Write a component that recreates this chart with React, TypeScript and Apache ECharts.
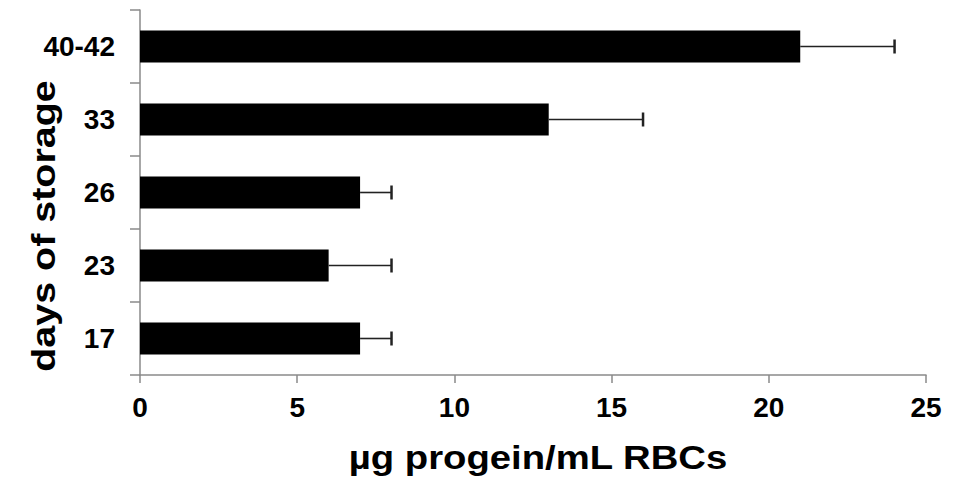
import React, { useEffect, useRef } from "react";
import * as echarts from "echarts";

const categories = ["17", "23", "26", "33", "40-42"];
const means = [7, 6, 7, 13, 21];
const upperErrors = [8, 8, 8, 16, 24];
const xTicks = [0, 5, 10, 15, 20, 25];
const xTitle = "µg progein/mL RBCs";
const yTitle = "days of storage";

const FONT = "'Liberation Sans', Arial, Helvetica, sans-serif";
const AXIS_COLOR = "#8a8a8a";

export default function App() {
  const ref = useRef<HTMLDivElement>(null);
  useEffect(() => {
    if (!ref.current) return;
    const chart = echarts.init(ref.current, null, { renderer: "svg" });
    const errData = categories.map((c, i) => [i, means[i], upperErrors[i]]);
    chart.setOption({
      animation: false,
      backgroundColor: "#ffffff",
      grid: { left: 140, right: 31, top: 10, bottom: 103, containLabel: false },
      xAxis: {
        type: "value",
        min: xTicks[0],
        max: xTicks[xTicks.length - 1],
        interval: 5,
        axisLine: { show: true, lineStyle: { color: AXIS_COLOR, width: 1.5 } },
        axisTick: { show: true, length: 8, lineStyle: { color: AXIS_COLOR, width: 1.5 } },
        splitLine: { show: false },
        axisLabel: {
          margin: 18,
          color: "#000",
          fontFamily: FONT,
          fontWeight: "bold",
          fontSize: 28,
        },
      },
      yAxis: {
        type: "category",
        data: categories,
        axisLine: { show: true, lineStyle: { color: AXIS_COLOR, width: 1.5 } },
        axisTick: { show: true, length: 10, alignWithLabel: false, lineStyle: { color: AXIS_COLOR, width: 1.5 } },
        splitLine: { show: false },
        axisLabel: {
          margin: 25,
          color: "#000",
          fontFamily: FONT,
          fontWeight: "bold",
          fontSize: 28,
        },
      },
      graphic: [
        {
          type: "text",
          x: 538,
          y: 458,
          scaleX: 1.16,
          style: {
            text: xTitle,
            fontFamily: FONT,
            fontWeight: "bold",
            fontSize: 33,
            fill: "#000",
            textAlign: "center",
            textVerticalAlign: "middle",
          },
        },
        {
          type: "text",
          x: 43,
          y: 226,
          rotation: Math.PI / 2,
          scaleX: 1.16,
          style: {
            text: yTitle,
            fontFamily: FONT,
            fontWeight: "bold",
            fontSize: 34,
            fill: "#000",
            textAlign: "center",
            textVerticalAlign: "middle",
          },
        },
      ],
      series: [
        {
          type: "bar",
          data: means,
          barWidth: 32,
          itemStyle: { color: "#000000" },
          z: 2,
        },
        {
          type: "custom",
          data: errData,
          encode: { x: [1, 2], y: 0 },
          z: 3,
          renderItem: (params: any, api: any) => {
            const idx = api.value(0);
            const v = api.value(1);
            const hi = api.value(2);
            const s = api.coord([v, idx]);
            const e = api.coord([hi, idx]);
            return {
              type: "group",
              children: [
                {
                  type: "line",
                  shape: { x1: s[0], y1: s[1], x2: e[0], y2: e[1] },
                  style: { stroke: "#222", lineWidth: 1.6 },
                },
                {
                  type: "line",
                  shape: { x1: e[0], y1: e[1] - 7, x2: e[0], y2: e[1] + 7 },
                  style: { stroke: "#222", lineWidth: 2.5 },
                },
              ],
            };
          },
        },
      ],
    });
    return () => chart.dispose();
  }, []);
  return (
    <div
      ref={ref}
      style={{ position: "fixed", left: 0, top: 0, width: 957, height: 478 }}
    />
  );
}
